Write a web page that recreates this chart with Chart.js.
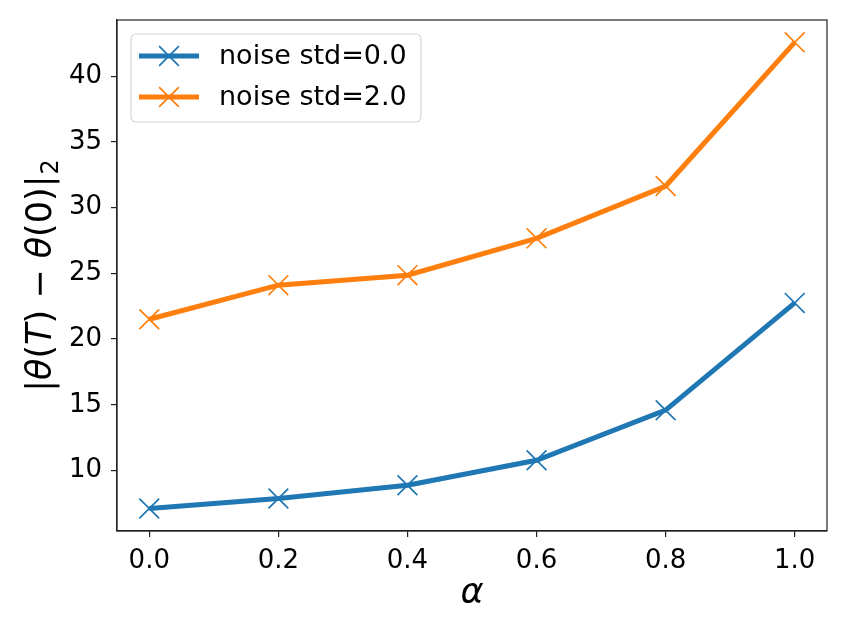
<!DOCTYPE html>
<html>
<head>
<meta charset="utf-8">
<script src="https://cdn.jsdelivr.net/npm/chart.js@4.4.0/dist/chart.umd.min.js"></script>
<style>
  html, body { margin: 0; padding: 0; background: #fff; }
</style>
</head>
<body>
<canvas id="chart" width="847" height="635"></canvas>
<script>
// values
const alphas = [0.0, 0.2, 0.4, 0.6, 0.8, 1.0];
const noiseStd0 = [7.11, 7.87, 8.88, 10.78, 14.59, 22.75];
const noiseStd2 = [21.51, 24.10, 24.86, 27.66, 31.64, 42.57];
const seriesLabels = ['noise std=0.0', 'noise std=2.0'];
const seriesColors = ['#1f77b4', '#ff7f0e'];
const xTicks = [0.0, 0.2, 0.4, 0.6, 0.8, 1.0];
const yTicks = [10, 15, 20, 25, 30, 35, 40];

const FONT = "'DejaVu Sans', sans-serif";
const LINE_W = 5;
const MARK_R = 14;

function toPoints(ys) {
  return alphas.map((a, i) => ({ x: a, y: ys[i] }));
}

function series(label, values, color) {
  return {
    label: label,
    data: toPoints(values),
    borderColor: color,
    backgroundColor: color,
    borderWidth: LINE_W,
    pointStyle: 'crossRot',
    pointRadius: MARK_R,
    pointHoverRadius: MARK_R,
    pointBorderWidth: 1.7,
    tension: 0
  };
}

// full frame around the plot area
const frame = {
  id: 'frame',
  afterDatasetsDraw(chart) {
    const a = chart.chartArea, ctx = chart.ctx;
    ctx.save();
    ctx.strokeStyle = '#222';
    ctx.lineWidth = 1.2;
    ctx.strokeRect(a.left, a.top, a.right - a.left, a.bottom - a.top);
    ctx.restore();
  }
};

// legend box in the upper left corner of the axes
const boxLegend = {
  id: 'boxLegend',
  afterDraw(chart) {
    const ctx = chart.ctx, a = chart.chartArea;
    const x = a.left + 14, y = a.top + 14, w = 290, h = 88;
    ctx.save();
    ctx.beginPath();
    ctx.roundRect(x, y, w, h, 5);
    ctx.fillStyle = 'rgba(255,255,255,0.8)';
    ctx.fill();
    ctx.strokeStyle = '#d6d6d6';
    ctx.lineWidth = 1.2;
    ctx.stroke();
    chart.data.datasets.forEach((ds, i) => {
      const cy = y + 22 + i * 41;
      ctx.strokeStyle = ds.borderColor;
      ctx.lineWidth = LINE_W;
      ctx.beginPath();
      ctx.moveTo(x + 8, cy);
      ctx.lineTo(x + 68, cy);
      ctx.stroke();
      const r = MARK_R * Math.SQRT1_2;
      ctx.lineWidth = 1.7;
      ctx.beginPath();
      ctx.moveTo(x + 38 - r, cy - r); ctx.lineTo(x + 38 + r, cy + r);
      ctx.moveTo(x + 38 - r, cy + r); ctx.lineTo(x + 38 + r, cy - r);
      ctx.stroke();
      ctx.fillStyle = '#000';
      ctx.font = '27px ' + FONT;
      ctx.textBaseline = 'middle';
      ctx.fillText(ds.label, x + 88, cy + 1);
    });
    ctx.restore();
  }
};

// y axis title with italic symbols and a lowered subscript
const yTitle = {
  id: 'yTitle',
  afterDraw(chart) {
    const a = chart.chartArea, ctx = chart.ctx;
    const size = 35;
    const parts = [
      ['|', ''], ['θ', 'italic '], ['(', ''], ['T', 'italic '], [')', ''],
      [' − ', ''], ['θ', 'italic '], ['(0)|', '']
    ];
    const sub = '2', subSize = 24;
    ctx.save();
    let total = 0;
    parts.forEach(p => {
      ctx.font = p[1] + size + 'px ' + FONT;
      total += ctx.measureText(p[0]).width;
    });
    ctx.font = subSize + 'px ' + FONT;
    total += ctx.measureText(sub).width + 1;
    ctx.translate(51, (a.top + a.bottom) / 2);
    ctx.rotate(-Math.PI / 2);
    ctx.fillStyle = '#000';
    ctx.textBaseline = 'alphabetic';
    let cx = -total / 2;
    parts.forEach(p => {
      ctx.font = p[1] + size + 'px ' + FONT;
      ctx.fillText(p[0], cx, 0);
      cx += ctx.measureText(p[0]).width;
    });
    ctx.font = subSize + 'px ' + FONT;
    ctx.fillText(sub, cx + 1, 7);
    ctx.restore();
  }
};

new Chart(document.getElementById('chart'), {
  type: 'line',
  data: {
    datasets: [
      series(seriesLabels[0], noiseStd0, seriesColors[0]),
      series(seriesLabels[1], noiseStd2, seriesColors[1])
    ]
  },
  options: {
    responsive: false,
    animation: false,
    devicePixelRatio: 1,
    layout: { padding: { top: 20, right: 20, left: 0, bottom: 0 } },
    plugins: { legend: { display: false }, tooltip: { enabled: false } },
    scales: {
      x: {
        type: 'linear',
        min: -0.05,
        max: 1.05,
        afterBuildTicks: s => { s.ticks = xTicks.map(v => ({ value: v })); },
        afterFit: s => { s.height = 104; s.paddingLeft = 0; s.paddingRight = 0; },
        grid: { drawOnChartArea: false, drawTicks: true, tickLength: 6, color: '#222', lineWidth: 1.2 },
        border: { display: true, color: '#222', width: 1.2 },
        ticks: {
          color: '#000', font: { family: FONT, size: 26 }, padding: 9, maxRotation: 0,
          callback: v => v.toFixed(1)
        },
        title: {
          display: true, text: 'α', color: '#000',
          font: { family: FONT, size: 35, style: 'italic' }, padding: { top: 2, bottom: 20 }
        }
      },
      y: {
        type: 'linear',
        min: 5.40,
        max: 44.27,
        afterBuildTicks: s => { s.ticks = yTicks.map(v => ({ value: v })); },
        afterFit: s => { s.width = 117; s.paddingTop = 0; s.paddingBottom = 0; },
        grid: { drawOnChartArea: false, drawTicks: true, tickLength: 6, color: '#222', lineWidth: 1.2 },
        border: { display: true, color: '#222', width: 1.2 },
        ticks: {
          color: '#000', font: { family: FONT, size: 26 }, padding: 9,
          callback: v => String(v)
        }
      }
    }
  },
  plugins: [frame, boxLegend, yTitle]
});
</script>
</body>
</html>
